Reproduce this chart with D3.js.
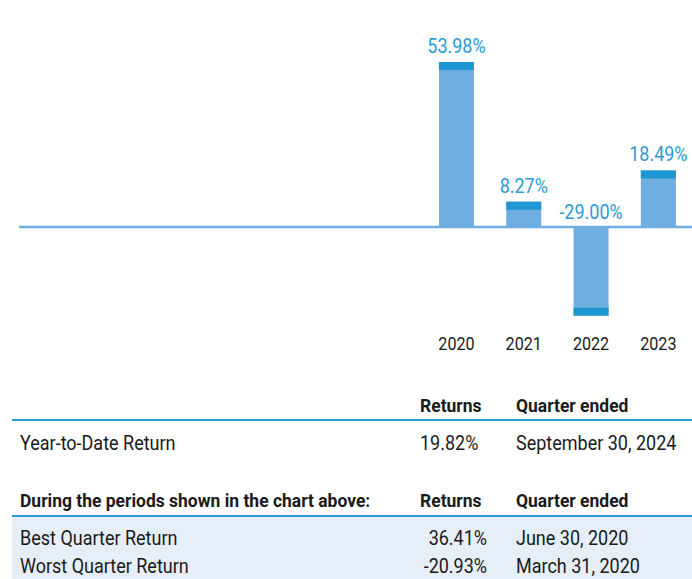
<!DOCTYPE html>
<html>
<head>
<meta charset="utf-8">
<script src="https://cdn.jsdelivr.net/npm/d3@7"></script>
<style>
  body { margin: 0; background: #fff; }
  svg { display: block; font-family: Roboto, "Open Sans", sans-serif; }
</style>
</head>
<body>
<svg width="692" height="579"></svg>
<script>
// Calendar year returns (empty slots keep the bar spacing of a 10 year chart)
const years = ["2014", "2015", "2016", "2017", "2018", "2019", "2020", "2021", "2022", "2023"];
const annualReturns = [null, null, null, null, null, null, 53.98, 8.27, -29.00, 18.49];

// Table rows
const tableHeaders = ["Returns", "Quarter ended"];
const ytdRow = ["Year-to-Date Return", "19.82%", "September 30, 2024"];
const periodTitle = "During the periods shown in the chart above:";
const periodRows = [
  ["Best Quarter Return", "36.41%", "June 30, 2020"],
  ["Worst Quarter Return", "-20.93%", "March 31, 2020"]
];

const width = 692;
const svg = d3.select("svg");

const barLight = "#6eaee0";
const barDark = "#1e96d3";
const labelBlue = "#2b9bd8";
const ink = "#1a1a1a";

// squeeze text horizontally to mimic a condensed face
function condense(sel, k) {
  sel.each(function() {
    const t = d3.select(this);
    const tx = +t.attr("x") || 0, ty = +t.attr("y") || 0;
    t.attr("x", 0).attr("y", 0)
      .attr("transform", `translate(${tx},${ty}) scale(${k},1)`);
  });
}

// Scales
const x = d3.scaleBand()
  .domain(years)
  .range([19, width])
  .paddingInner(0.48)
  .paddingOuter(0.24);

const y = d3.scaleLinear()
  .domain([-30, 60])
  .range([318.7, 43.6]);

const data = years.map((yr, i) => ({ year: yr, value: annualReturns[i] }))
  .filter(d => d.value !== null);

const chart = svg.append("g");
const capH = 8;

// Bars
chart.selectAll("rect.bar")
  .data(data)
  .enter()
  .append("rect")
  .attr("class", "bar")
  .attr("x", d => x(d.year))
  .attr("y", d => Math.min(y(d.value), y(0)))
  .attr("width", x.bandwidth())
  .attr("height", d => Math.abs(y(d.value) - y(0)))
  .attr("fill", barLight);

// Darker end caps
chart.selectAll("rect.cap")
  .data(data)
  .enter()
  .append("rect")
  .attr("class", "cap")
  .attr("x", d => x(d.year))
  .attr("y", d => d.value >= 0 ? y(d.value) : y(d.value) - capH)
  .attr("width", x.bandwidth())
  .attr("height", capH)
  .attr("fill", barDark);

// Zero line
chart.append("line")
  .attr("x1", x.range()[0])
  .attr("x2", x.range()[1])
  .attr("y1", y(0))
  .attr("y2", y(0))
  .attr("stroke", barLight)
  .attr("stroke-width", 2.5);

// Value labels
chart.selectAll("text.val")
  .data(data)
  .enter()
  .append("text")
  .attr("class", "val")
  .attr("x", d => x(d.year) + x.bandwidth() / 2)
  .attr("y", d => d.value >= 0 ? y(d.value) - 9 : y(0) - 8)
  .attr("text-anchor", "middle")
  .attr("fill", labelBlue)
  .style("font-size", "20px")
  .text(d => d.value.toFixed(2) + "%")
  .call(condense, 0.9);

// Year axis (labels only for years with data)
const xAxis = chart.append("g")
  .attr("transform", `translate(0,${y(-29) + 34})`)
  .call(d3.axisBottom(x).tickValues(data.map(d => d.year)).tickSize(0).tickPadding(0));
xAxis.select(".domain").remove();
xAxis.selectAll("text")
  .attr("dy", 0)
  .attr("fill", ink)
  .style("font-size", "19px")
  .style("font-family", "Roboto, sans-serif")
  .call(condense, 0.85);

// Tables
const colLabel = 20, colRet = 420, colRetRight = 487, colQtr = 516, lineX0 = 12;
const table = svg.append("g");
const headSize = "19px", bodySize = "20px", headK = 0.92, bodyK = 0.9;

function cell(xx, yy, txt, bold, anchor) {
  table.append("text").attr("x", xx).attr("y", yy)
    .attr("text-anchor", anchor || "start")
    .attr("fill", ink)
    .style("font-size", bold ? headSize : bodySize)
    .style("font-weight", bold ? "bold" : "normal")
    .text(txt)
    .call(condense, bold ? headK : bodyK);
}

function header(yBase, title) {
  if (title) cell(colLabel, yBase, title, true);
  cell(colRet, yBase, tableHeaders[0], true);
  cell(colQtr, yBase, tableHeaders[1], true);
}

// Year-to-date block
header(412, null);
table.append("line")
  .attr("x1", lineX0).attr("x2", width)
  .attr("y1", 420).attr("y2", 420)
  .attr("stroke", labelBlue).attr("stroke-width", 2);
cell(colLabel, 450, ytdRow[0]);
cell(colRet, 450, ytdRow[1]);
cell(colQtr, 450, ytdRow[2]);

// Best / worst quarter block
table.append("rect")
  .attr("x", lineX0).attr("y", 517)
  .attr("width", width - lineX0).attr("height", 579 - 517)
  .attr("fill", "#e6eef8");
header(507, periodTitle);
table.append("line")
  .attr("x1", lineX0).attr("x2", width)
  .attr("y1", 516).attr("y2", 516)
  .attr("stroke", labelBlue).attr("stroke-width", 2);

periodRows.forEach((r, i) => {
  const yy = 545 + i * 28;
  cell(colLabel, yy, r[0]);
  cell(colRetRight, yy, r[1], false, "end");
  cell(colQtr, yy, r[2]);
});
</script>
</body>
</html>
